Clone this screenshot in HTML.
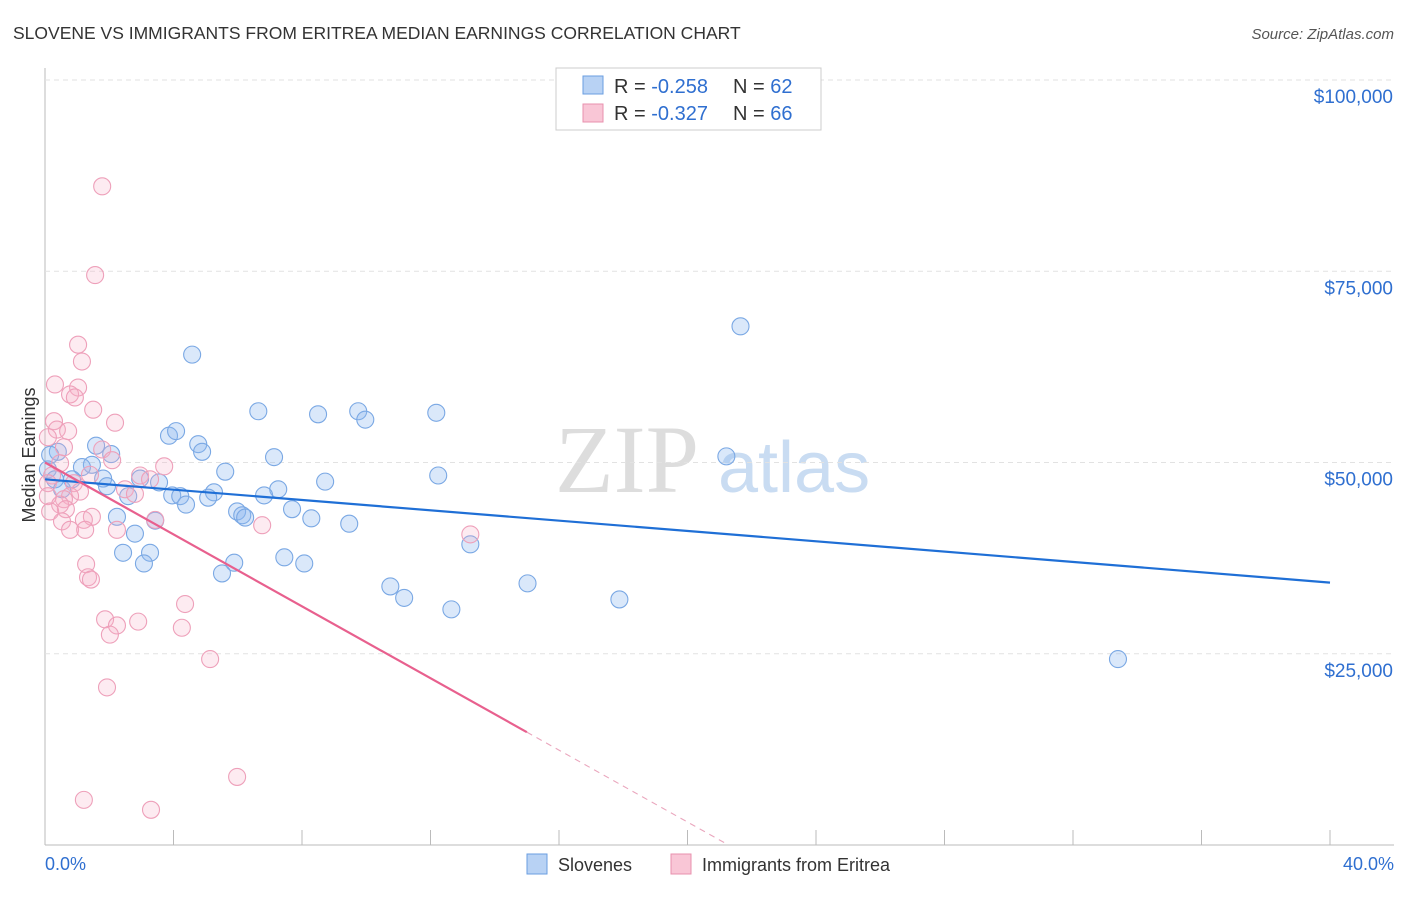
<!DOCTYPE html>
<html><head><meta charset="utf-8"><style>
body{margin:0;background:#fff;font-family:"Liberation Sans",sans-serif;}
#wrap{position:relative;width:1406px;height:892px;}
</style></head><body>
<div id="wrap">
<svg id="svg" width="1406" height="892" xmlns="http://www.w3.org/2000/svg">
<text x="13" y="39" font-size="17.5" fill="#333">SLOVENE VS IMMIGRANTS FROM ERITREA MEDIAN EARNINGS CORRELATION CHART</text>
<text x="1394" y="39" font-size="15" fill="#555" font-style="italic" text-anchor="end">Source: ZipAtlas.com</text>
<text x="35" y="455" font-size="18" fill="#333" transform="rotate(-90 35 455)" text-anchor="middle">Median Earnings</text>
<text x="555" y="492" font-size="96" fill="#ddd" font-family="Liberation Serif,serif">ZIP</text>
<text x="718" y="492" font-size="72" fill="#c9dcf2">atlas</text>
<g id="grid"></g><g id="marks"></g>
<g>
<rect x="556" y="68" width="265" height="62" fill="#fff" stroke="#ccc"/>
<rect x="583" y="76" width="20" height="18" fill="#b8d2f4" stroke="#6a9ee0"/>
<rect x="583" y="104" width="20" height="18" fill="#f9c6d6" stroke="#e890ae"/>
<text x="614" y="93" font-size="20" fill="#333">R = <tspan fill="#2f6fd0">-0.258</tspan></text>
<text x="733" y="93" font-size="20" fill="#333">N = <tspan fill="#2f6fd0">62</tspan></text>
<text x="614" y="120" font-size="20" fill="#333">R = <tspan fill="#2f6fd0">-0.327</tspan></text>
<text x="733" y="120" font-size="20" fill="#333">N = <tspan fill="#2f6fd0">66</tspan></text>
</g>
<g>
<rect x="527" y="854" width="20" height="20" fill="#b8d2f4" stroke="#6a9ee0"/>
<text x="558" y="871" font-size="18" fill="#333">Slovenes</text>
<rect x="671" y="854" width="20" height="20" fill="#f9c6d6" stroke="#e890ae"/>
<text x="702" y="871" font-size="18" fill="#333">Immigrants from Eritrea</text>
</g>
<text x="45" y="870" font-size="18" fill="#2f6fd0">0.0%</text>
<text x="1394" y="870" font-size="18" fill="#2f6fd0" text-anchor="end">40.0%</text>
</svg></div>
<script>
const yTicks=[25000,50000,75000,100000];
const yTickLabels=["$25,000","$50,000","$75,000","$100,000"];
const blueX=[4.58,21.65,6.64,8.50,9.75,9.97,12.18,3.86,4.08,4.77,4.89,1.59,2.06,0.40,7.13,21.21,1.46,1.15,5.61,12.24,2.96,3.55,8.72,1.81,0.84,1.93,7.26,5.26,3.96,4.21,5.08,6.82,2.59,4.39,7.69,5.98,6.14,6.23,8.29,2.24,3.43,9.47,2.80,13.24,2.43,3.27,3.08,5.89,7.45,8.07,5.51,10.75,11.18,12.65,15.02,17.88,33.40,0.16,0.09,0.31,0.53];
const blueY=[64.1,67.8,56.7,56.3,56.7,55.6,56.5,53.5,54.1,52.4,51.4,52.2,51.1,51.4,50.7,50.8,49.7,49.4,48.8,48.3,47.9,47.4,47.5,47.9,47.8,46.9,46.5,46.1,45.7,45.6,45.4,45.7,45.6,44.5,43.9,43.6,43.1,42.8,42.7,42.9,42.4,42.0,40.7,39.3,38.2,38.2,36.8,36.9,37.6,36.8,35.5,33.8,32.3,30.8,34.2,32.1,24.3,51.0,49.1,47.8,46.5];
const pinkX=[1.78,1.56,1.03,1.15,0.31,1.03,0.78,0.93,1.50,2.18,0.28,0.37,0.72,0.09,1.78,0.59,2.09,0.47,3.71,2.96,0.22,0.09,0.90,2.49,2.80,1.09,0.78,0.59,0.09,0.47,0.65,0.16,1.46,1.21,0.53,3.43,6.76,0.78,1.25,2.24,13.24,1.28,1.34,1.43,4.36,1.87,2.90,2.24,4.26,2.02,5.14,1.93,5.98,1.21,3.30,3.27,1.40];
const pinkY=[86.1,74.5,65.4,63.2,60.2,59.8,58.9,58.5,56.9,55.2,55.4,54.3,54.1,53.3,51.7,52.0,50.3,49.9,49.5,48.3,48.3,47.3,47.3,46.5,45.9,46.2,45.6,45.2,45.6,44.5,43.9,43.6,42.9,42.5,42.3,42.5,41.8,41.2,41.2,41.2,40.6,36.7,35.0,34.7,31.5,29.5,29.2,28.7,28.4,27.5,24.3,20.6,8.9,5.9,4.6,47.8,48.4];
const blueTrend=[47.8,34.3];
const pinkTrend=[50.0,-2.35];
const X=v=>45+v*(1285/40);
const Y=v=>845-v*(765/100);
const NS="http://www.w3.org/2000/svg";
const grid=document.getElementById('grid'),marks=document.getElementById('marks');
function mk(tag,at,parent){const e=document.createElementNS(NS,tag);for(const k in at)e.setAttribute(k,at[k]);parent.appendChild(e);return e;}
const ax=mk('line',{x1:45,y1:68,x2:45,y2:845,stroke:'#bbb'},grid);


const bx=mk('line',{x1:45,y1:845,x2:1394,y2:845,stroke:'#bbb'},grid);


for(let i=0;i<=10;i++){const t=mk('line',{x1:X(i*4),y1:830,x2:X(i*4),y2:845,stroke:'#bbb'},grid);

}
yTicks.forEach((v,i)=>{const g=mk('line',{x1:45,y1:Y(v/1000),x2:1394,y2:Y(v/1000),stroke:'#e2e2e2','stroke-dasharray':'5,4'},grid);


const t=mk('text',{x:1393,y:Y(v/1000)+23,'font-size':19,fill:'#2f6fd0','text-anchor':'end'},grid);t.textContent=yTickLabels[i];

});
blueX.forEach((x,i)=>{const c=mk('circle',{cx:X(x),cy:Y(blueY[i]),r:8.5,fill:'rgba(140,182,238,0.32)',stroke:'#7aa8e4','stroke-width':1.1},marks);

});
pinkX.forEach((x,i)=>{const c=mk('circle',{cx:X(x),cy:Y(pinkY[i]),r:8.5,fill:'rgba(248,175,200,0.25)',stroke:'#eea0ba','stroke-width':1.1},marks);

});
const bl=mk('line',{x1:X(0),y1:Y(blueTrend[0]),x2:X(40),y2:Y(blueTrend[1]),stroke:'#1f6fd6','stroke-width':2.2},marks);


const xe=15,xz=-pinkTrend[0]/pinkTrend[1];
const pl=mk('line',{x1:X(0),y1:Y(pinkTrend[0]),x2:X(xe),y2:Y(pinkTrend[0]+pinkTrend[1]*xe),stroke:'#e8608e','stroke-width':2.2},marks);


const pd=mk('line',{x1:X(xe),y1:Y(pinkTrend[0]+pinkTrend[1]*xe),x2:X(xz),y2:Y(0),stroke:'#eaa6bd','stroke-width':1.1,'stroke-dasharray':'6,5'},marks);


</script>
</body></html>
